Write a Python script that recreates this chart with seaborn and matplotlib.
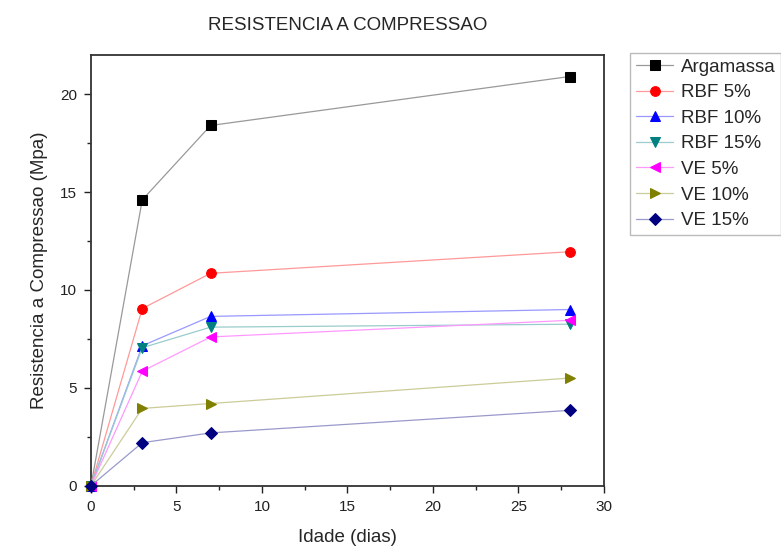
import pandas as pd
import matplotlib.pyplot as plt
import matplotlib.colors as mcolors
import seaborn as sns
from matplotlib.ticker import MultipleLocator

# Dados
idade = [0, 3, 7, 28]
series = ["Argamassa", "RBF 5%", "RBF 10%", "RBF 15%", "VE 5%", "VE 10%", "VE 15%"]
argamassa = [0, 14.6, 18.4, 20.9]
rbf_5 = [0, 9.05, 10.85, 11.95]
rbf_10 = [0, 7.15, 8.65, 9.0]
rbf_15 = [0, 7.05, 8.1, 8.25]
ve_5 = [0, 5.85, 7.6, 8.45]
ve_10 = [0, 3.95, 4.2, 5.5]
ve_15 = [0, 2.2, 2.7, 3.85]
valores = [argamassa, rbf_5, rbf_10, rbf_15, ve_5, ve_10, ve_15]

cores = ["#000000", "#ff0000", "#0000ff", "#008080", "#ff00ff", "#808000", "#000080"]
marcadores = ["s", "o", "^", "v", "<", ">", "D"]

df = pd.DataFrame(
    [(s, x, y) for s, vals in zip(series, valores) for x, y in zip(idade, vals)],
    columns=["serie", "idade", "resistencia"],
)

sns.set_theme(style="ticks")
plt.rcParams['font.family'] = ['Liberation Sans', 'DejaVu Sans']

fig = plt.figure(figsize=(7.81, 5.52), dpi=100)
ax = fig.add_axes([0.1165, 0.12, 0.6565, 0.7804])

for s, c, m in zip(series, cores, marcadores):
    claro = mcolors.to_hex([1 - 0.4 * (1 - v) for v in mcolors.to_rgb(c)])
    sns.lineplot(data=df[df["serie"] == s], x="idade", y="resistencia", ax=ax,
                 color=claro, linewidth=0.9, marker=m, markersize=7 if m != "D" else 6,
                 markerfacecolor=c, markeredgecolor=c, label=s, clip_on=False, zorder=3)

ax.set_xlim(0, 30)
ax.set_ylim(0, 22)
ax.xaxis.set_major_locator(MultipleLocator(5))
ax.xaxis.set_minor_locator(MultipleLocator(2.5))
ax.yaxis.set_major_locator(MultipleLocator(5))
ax.yaxis.set_minor_locator(MultipleLocator(2.5))
ax.tick_params(which="major", direction="out", length=5, width=1, labelsize=11,
               pad=5, colors="#222222")
ax.tick_params(which="minor", direction="out", length=3, width=1)
for sp in ax.spines.values():
    sp.set_visible(True)
    sp.set_color("#333333")
    sp.set_linewidth(1.3)

ax.set_xlabel("Idade (dias)", fontsize=13.5, labelpad=11)
ax.set_ylabel("Resistencia a Compressao (Mpa)", fontsize=13.5, labelpad=9)
ax.set_title("RESISTENCIA A COMPRESSAO", fontsize=13.5, pad=18)

leg = ax.legend(loc="upper left", bbox_to_anchor=(0.807, 0.904), bbox_transform=fig.transFigure,
                fontsize=13.5, frameon=True, fancybox=False, handlelength=2.0,
                borderpad=0.3, labelspacing=0.45, handletextpad=0.4, borderaxespad=0)
leg.get_frame().set_edgecolor("#aaaaaa")
leg.get_frame().set_linewidth(1.0)

fig.savefig("out.png", dpi=100)
plt.close(fig)
